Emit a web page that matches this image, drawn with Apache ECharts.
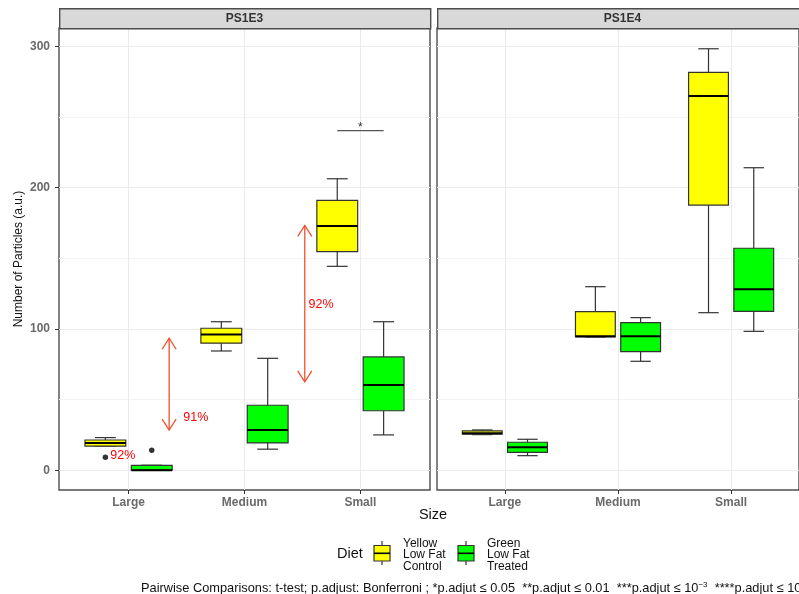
<!DOCTYPE html>
<html>
<head>
<meta charset="utf-8">
<script src="https://cdn.jsdelivr.net/npm/echarts@6/dist/echarts.min.js"></script>
<style>
html,body{margin:0;padding:0;background:#fff;}
#chart{width:799px;height:594px;}
</style>
</head>
<body>
<div id="chart"></div>
<script>
// ---------------- data ----------------
const categories = ['Large', 'Medium', 'Small'];
const panelNames = ['PS1E3', 'PS1E4'];
const yTicks = [0, 100, 200, 300];
const yMinorTicks = [50, 150, 250];
// box statistics per category: [lower whisker, Q1, median, Q3, upper whisker]
const ps1e3Control = [[17.0, 17.0, 19.3, 21.4, 23.1], [84.4, 89.9, 96.0, 100.5, 105.1], [144.3, 154.7, 172.9, 191.0, 206.3]];
const ps1e3Treated = [[0.0, 0.0, 0.0, 3.5, 3.5], [14.9, 19.3, 28.5, 46.0, 79.2], [25.0, 42.1, 60.4, 80.2, 105.1]];
const ps1e4Control = [[25.2, 25.5, 26.2, 27.8, 28.5], [94.3, 94.3, 94.8, 112.2, 129.9], [111.5, 187.7, 264.8, 281.6, 298.3]];
const ps1e4Treated = [[10.3, 12.7, 16.3, 19.8, 21.9], [77.1, 83.9, 94.8, 104.4, 108.0], [98.3, 112.5, 128.1, 157.1, 214.1]];
// outliers: [category index, value]
const ps1e3ControlOutliers = [[0, 9.2]];
const ps1e3TreatedOutliers = [[0, 14.2]];
// annotations in PS1E3 (x in category units, 1 = Large)
const arrowSpans = [[1.35, 28.4, 93.4], [2.52, 62.6, 173.3]];
const percentLabels = [[0.95, 10.1, '92%'], [1.58, 37.2, '91%'], [2.66, 117.4, '92%']];
const significance = [[2.8, 3.2, 240.4, '*']];
const groupNames = ['Yellow\nLow Fat\nControl', 'Green\nLow Fat\nTreated'];
const groupColors = ['#FFFF00', '#00FF00'];

// ---------------- layout / style ----------------
const FONT = '"Liberation Sans", Arial, sans-serif';
const PANEL_TOP = 28, PANEL_H = 462, PANEL_W = 371;
const PANEL_LEFTS = [59, 437];
const STRIP_TOP = 8;
const Y_MIN = -14, Y_MAX = 313;
const DODGE = 0.2, BOX_HALF = 0.176, CAP_HALF = 0.09;
const EDGE = '#333333';
const ARROW_COLOR = '#EE5030';

const chart = echarts.init(document.getElementById('chart'), null, {renderer: 'canvas'});

function boxRenderer(offset, fill) {
  return function (params, api) {
    const x = api.value(0) + offset;
    const lo = api.value(1), q1 = api.value(2), med = api.value(3), q3 = api.value(4), hi = api.value(5);
    const tl = api.coord([x - BOX_HALF, q3]);
    const br = api.coord([x + BOX_HALF, q1]);
    const pHi = api.coord([x, hi]), pQ3 = api.coord([x, q3]), pQ1 = api.coord([x, q1]), pLo = api.coord([x, lo]);
    const capHiL = api.coord([x - CAP_HALF, hi]), capHiR = api.coord([x + CAP_HALF, hi]);
    const capLoL = api.coord([x - CAP_HALF, lo]), capLoR = api.coord([x + CAP_HALF, lo]);
    const mL = api.coord([x - BOX_HALF, med]), mR = api.coord([x + BOX_HALF, med]);
    const ls = {stroke: EDGE, lineWidth: 1.2};
    return {
      type: 'group',
      children: [
        {type: 'line', shape: {x1: pQ3[0], y1: pQ3[1], x2: pHi[0], y2: pHi[1]}, style: ls},
        {type: 'line', shape: {x1: pQ1[0], y1: pQ1[1], x2: pLo[0], y2: pLo[1]}, style: ls},
        {type: 'line', shape: {x1: capHiL[0], y1: capHiL[1], x2: capHiR[0], y2: capHiR[1]}, style: ls},
        {type: 'line', shape: {x1: capLoL[0], y1: capLoL[1], x2: capLoR[0], y2: capLoR[1]}, style: ls},
        {type: 'rect', shape: {x: tl[0], y: tl[1], width: br[0] - tl[0], height: br[1] - tl[1]},
         style: {fill: fill, stroke: EDGE, lineWidth: 1.2}},
        {type: 'line', shape: {x1: mL[0], y1: mL[1], x2: mR[0], y2: mR[1]}, style: {stroke: '#000', lineWidth: 2}}
      ]
    };
  };
}

function boxData(stats) { return stats.map((s, i) => [i + 1].concat(s)); }

function arrowRenderer(params, api) {
  const x = api.value(0);
  const a = api.coord([x, api.value(1)]);
  const b = api.coord([x, api.value(2)]);
  const top = Math.min(a[1], b[1]), bot = Math.max(a[1], b[1]);
  const hx = 7, hy = 11;
  const st = {stroke: ARROW_COLOR, lineWidth: 1.3, fill: 'none'};
  return {
    type: 'group',
    children: [
      {type: 'line', shape: {x1: a[0], y1: top, x2: a[0], y2: bot}, style: st},
      {type: 'polyline', shape: {points: [[a[0] - hx, top + hy], [a[0], top], [a[0] + hx, top + hy]]}, style: st},
      {type: 'polyline', shape: {points: [[a[0] - hx, bot - hy], [a[0], bot], [a[0] + hx, bot - hy]]}, style: st}
    ]
  };
}

function pctRenderer(params, api) {
  const p = api.coord([api.value(0), api.value(1)]);
  return {
    type: 'text',
    style: {text: percentLabels[params.dataIndex][2], x: p[0], y: p[1], fill: '#FF0000',
            font: '12.5px ' + FONT, align: 'center', verticalAlign: 'middle'}
  };
}

function sigRenderer(params, api) {
  const a = api.coord([api.value(0), api.value(2)]);
  const b = api.coord([api.value(1), api.value(2)]);
  return {
    type: 'group',
    children: [
      {type: 'line', shape: {x1: a[0], y1: a[1], x2: b[0], y2: b[1]}, style: {stroke: '#555', lineWidth: 1.3}},
      {type: 'text', style: {text: significance[params.dataIndex][3], x: (a[0] + b[0]) / 2, y: a[1] + 3,
        fill: '#333', font: '12px ' + FONT, align: 'center', verticalAlign: 'bottom'}}
    ]
  };
}

const grids = PANEL_LEFTS.map(l => ({
  left: l, top: PANEL_TOP, width: PANEL_W, height: PANEL_H,
  show: true, backgroundColor: '#fff', borderColor: '#4d4d4d', borderWidth: 1.4, containLabel: false
}));

const xAxes = PANEL_LEFTS.map((l, gi) => ({
  type: 'value', gridIndex: gi, min: 0.4, max: 3.6, position: 'bottom',
  axisLine: {show: false, onZero: false},
  axisTick: {show: true, length: 4, customValues: [1, 2, 3], lineStyle: {color: EDGE}},
  axisLabel: {customValues: [1, 2, 3], formatter: v => categories[Math.round(v) - 1] || '',
              color: '#6a6a6a', fontSize: 12, fontWeight: 'bold', fontFamily: FONT, margin: 7},
  splitLine: {show: true, lineStyle: {color: '#EBEBEB', width: 1}}
}));

const yAxes = [];
PANEL_LEFTS.forEach((l, gi) => {
  yAxes.push({
    type: 'value', gridIndex: gi, min: Y_MIN, max: Y_MAX, position: 'left',
    axisLine: {show: false, onZero: false},
    axisTick: {show: gi === 0, length: 4, customValues: yTicks, lineStyle: {color: EDGE}},
    axisLabel: {show: gi === 0, customValues: yTicks, color: '#6a6a6a', fontSize: 12, fontWeight: 'bold',
                fontFamily: FONT, margin: 9},
    splitLine: {show: true, lineStyle: {color: '#EBEBEB', width: 1}}
  });
  yAxes.push({
    type: 'value', gridIndex: gi, min: Y_MIN, max: Y_MAX, position: 'left',
    axisLine: {show: false, onZero: false},
    axisTick: {show: false, customValues: yMinorTicks},
    axisLabel: {show: false, customValues: yMinorTicks},
    splitLine: {show: true, lineStyle: {color: '#F3F3F3', width: 1}}
  });
});

const panelsData = [
  {control: ps1e3Control, treated: ps1e3Treated},
  {control: ps1e4Control, treated: ps1e4Treated}
];

const series = [];
panelsData.forEach((pd, gi) => {
  series.push({type: 'custom', name: 'Control', xAxisIndex: gi, yAxisIndex: gi * 2,
    renderItem: boxRenderer(-DODGE, groupColors[0]), data: boxData(pd.control),
    encode: {x: 0, y: [1, 2, 3, 4, 5]}, z: 3});
  series.push({type: 'custom', name: 'Treated', xAxisIndex: gi, yAxisIndex: gi * 2,
    renderItem: boxRenderer(DODGE, groupColors[1]), data: boxData(pd.treated),
    encode: {x: 0, y: [1, 2, 3, 4, 5]}, z: 3});
});
series.push({type: 'scatter', xAxisIndex: 0, yAxisIndex: 0, symbolSize: 5.5, itemStyle: {color: '#000'},
  data: ps1e3ControlOutliers.map(o => [o[0] + 1 - DODGE, o[1]]), z: 4, silent: true});
series.push({type: 'scatter', xAxisIndex: 0, yAxisIndex: 0, symbolSize: 5.5, itemStyle: {color: '#000'},
  data: ps1e3TreatedOutliers.map(o => [o[0] + 1 + DODGE, o[1]]), z: 4, silent: true});
series.push({type: 'custom', xAxisIndex: 0, yAxisIndex: 0, renderItem: arrowRenderer,
  data: arrowSpans, encode: {x: 0, y: [1, 2]}, z: 5, silent: true});
series.push({type: 'custom', xAxisIndex: 0, yAxisIndex: 0, renderItem: pctRenderer,
  data: percentLabels.map(p => [p[0], p[1]]), encode: {x: 0, y: 1}, z: 5, silent: true});
series.push({type: 'custom', xAxisIndex: 0, yAxisIndex: 0, renderItem: sigRenderer,
  data: significance.map(s => [s[0], s[1], s[2]]), encode: {x: [0, 1], y: 2}, z: 5, silent: true});

// strips, titles, legend, caption
const graphics = [];
PANEL_LEFTS.forEach((l, gi) => {
  graphics.push({type: 'rect', left: l, top: STRIP_TOP, shape: {width: PANEL_W, height: PANEL_TOP - STRIP_TOP},
    style: {fill: '#D9D9D9', stroke: '#4d4d4d', lineWidth: 1.4}, z: 10});
  graphics.push({type: 'text', x: l + PANEL_W / 2, y: (STRIP_TOP + PANEL_TOP) / 2 + 1,
    style: {text: panelNames[gi], fill: '#333', font: 'bold 12px ' + FONT, align: 'center', verticalAlign: 'middle'}, z: 11});
});
graphics.push({type: 'text', x: 19, y: PANEL_TOP + PANEL_H / 2, rotation: Math.PI / 2,
  style: {text: 'Number of Particles (a.u.)', fill: '#111', font: '12px ' + FONT, align: 'center', verticalAlign: 'middle'}});
graphics.push({type: 'text', x: 433, y: 515,
  style: {text: 'Size', fill: '#111', font: '14.5px ' + FONT, align: 'center', verticalAlign: 'middle'}});
// legend
graphics.push({type: 'text', x: 337, y: 554,
  style: {text: 'Diet', fill: '#111', font: '14.5px ' + FONT, align: 'left', verticalAlign: 'middle'}});
const keyLefts = [374, 458];
keyLefts.forEach((kx, i) => {
  const cx = kx + 8;
  graphics.push({type: 'line', shape: {x1: cx, y1: 541, x2: cx, y2: 565}, style: {stroke: EDGE, lineWidth: 1.2}});
  graphics.push({type: 'rect', shape: {x: kx, y: 545.5, width: 16, height: 15.5},
    style: {fill: groupColors[i], stroke: EDGE, lineWidth: 1.2}});
  graphics.push({type: 'line', shape: {x1: kx, y1: 553.3, x2: kx + 16, y2: 553.3}, style: {stroke: '#000', lineWidth: 1.6}});
  graphics.push({type: 'text', x: kx + 29, y: 555,
    style: {text: groupNames[i], fill: '#111', font: '12px ' + FONT, lineHeight: 11.5, align: 'left', verticalAlign: 'middle'}});
});
graphics.push({type: 'text', x: 141, y: 588,
  style: {
    text: 'Pairwise Comparisons: t-test; p.adjust: Bonferroni ; *p.adjut \u2264 0.05  **p.adjut \u2264 0.01  ***p.adjut \u2264 10{sup|\u22123}  ****p.adjut \u2264 10',
    fill: '#111', font: '12.8px ' + FONT, align: 'left', verticalAlign: 'middle',
    rich: {sup: {fontSize: 8, verticalAlign: 'top', padding: [0, 0, 7, 0], fill: '#111', fontFamily: FONT}}
  }});

chart.setOption({
  backgroundColor: '#fff',
  animation: false,
  grid: grids,
  xAxis: xAxes,
  yAxis: yAxes,
  series: series,
  graphic: graphics
});
</script>
</body>
</html>
